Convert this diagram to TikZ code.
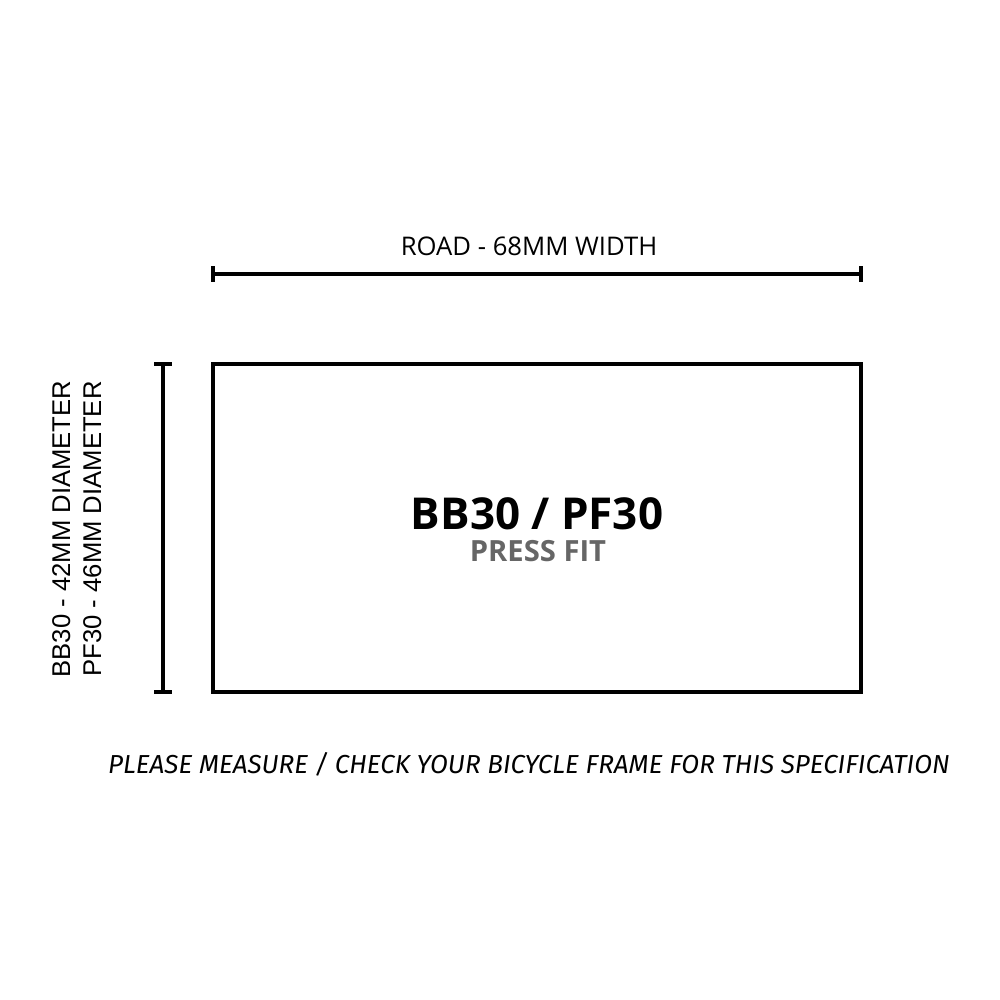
\documentclass[tikz,border=0pt]{standalone}
\usepackage{fontspec}
\setmainfont{Open Sans}
\newfontfamily\sidefont{Liberation Sans}
\newfontfamily\notefont{Fira Sans}
\usetikzlibrary{calc}

\begin{document}
\begin{tikzpicture}[x=0.01cm, y=-0.01cm,
    dimline/.style={line width=1pt},
    frame/.style={line width=1.3pt}]
			\useasboundingbox (0,0) rectangle (1000,1000);
			
			% -- Frame outline --
			\draw[frame] (213,364) rectangle (861,692);
			\node[anchor=base, inner sep=0pt, text depth=0pt] (title) at (537,529) {\fontsize{12.5}{14}\selectfont\bfseries BB30 / PF30};
			\node[anchor=base, inner sep=0pt, text height=0.18cm, text=black!60] (fit) at (538,561) {\fontsize{8.3}{10}\selectfont\bfseries PRESS FIT};
			
			% -- Width dimension --
			\coordinate (wl) at (213,274);
			\coordinate (wr) at (861,274);
			\draw[dimline] (wl) -- (wr);
			\draw[dimline] ($(wl)+(0,-8)$) -- ($(wl)+(0,8)$);
			\draw[dimline] ($(wr)+(0,-8)$) -- ($(wr)+(0,8)$);
			\node[anchor=base, inner sep=0pt] (width) at (529,255) {\fontsize{7.3}{9}\selectfont ROAD - 68MM WIDTH};
			
			% -- Diameter dimension --
			\coordinate (dt) at (163,364);
			\coordinate (db) at (163,692);
			\draw[dimline] (dt) -- (db);
			\draw[dimline] ($(dt)+(-9,0)$) -- ($(dt)+(9,0)$);
			\draw[dimline] ($(db)+(-9,0)$) -- ($(db)+(9,0)$);
			\node[rotate=90, anchor=base, inner sep=0pt] (bb) at (70,529) {\sidefont\fontsize{7.3}{9}\selectfont BB30 - 42MM DIAMETER};
			\node[rotate=90, anchor=base, inner sep=0pt] (pf) at (101,529) {\sidefont\fontsize{7.3}{9}\selectfont PF30 - 46MM DIAMETER};
			
			% -- Note --
			\node[anchor=base, inner sep=0pt] (note) at (529,773) {\notefont\fontsize{7.4}{9}\selectfont\itshape PLEASE MEASURE / CHECK YOUR BICYCLE FRAME FOR THIS SPECIFICATION};
		\end{tikzpicture}
\end{document}
